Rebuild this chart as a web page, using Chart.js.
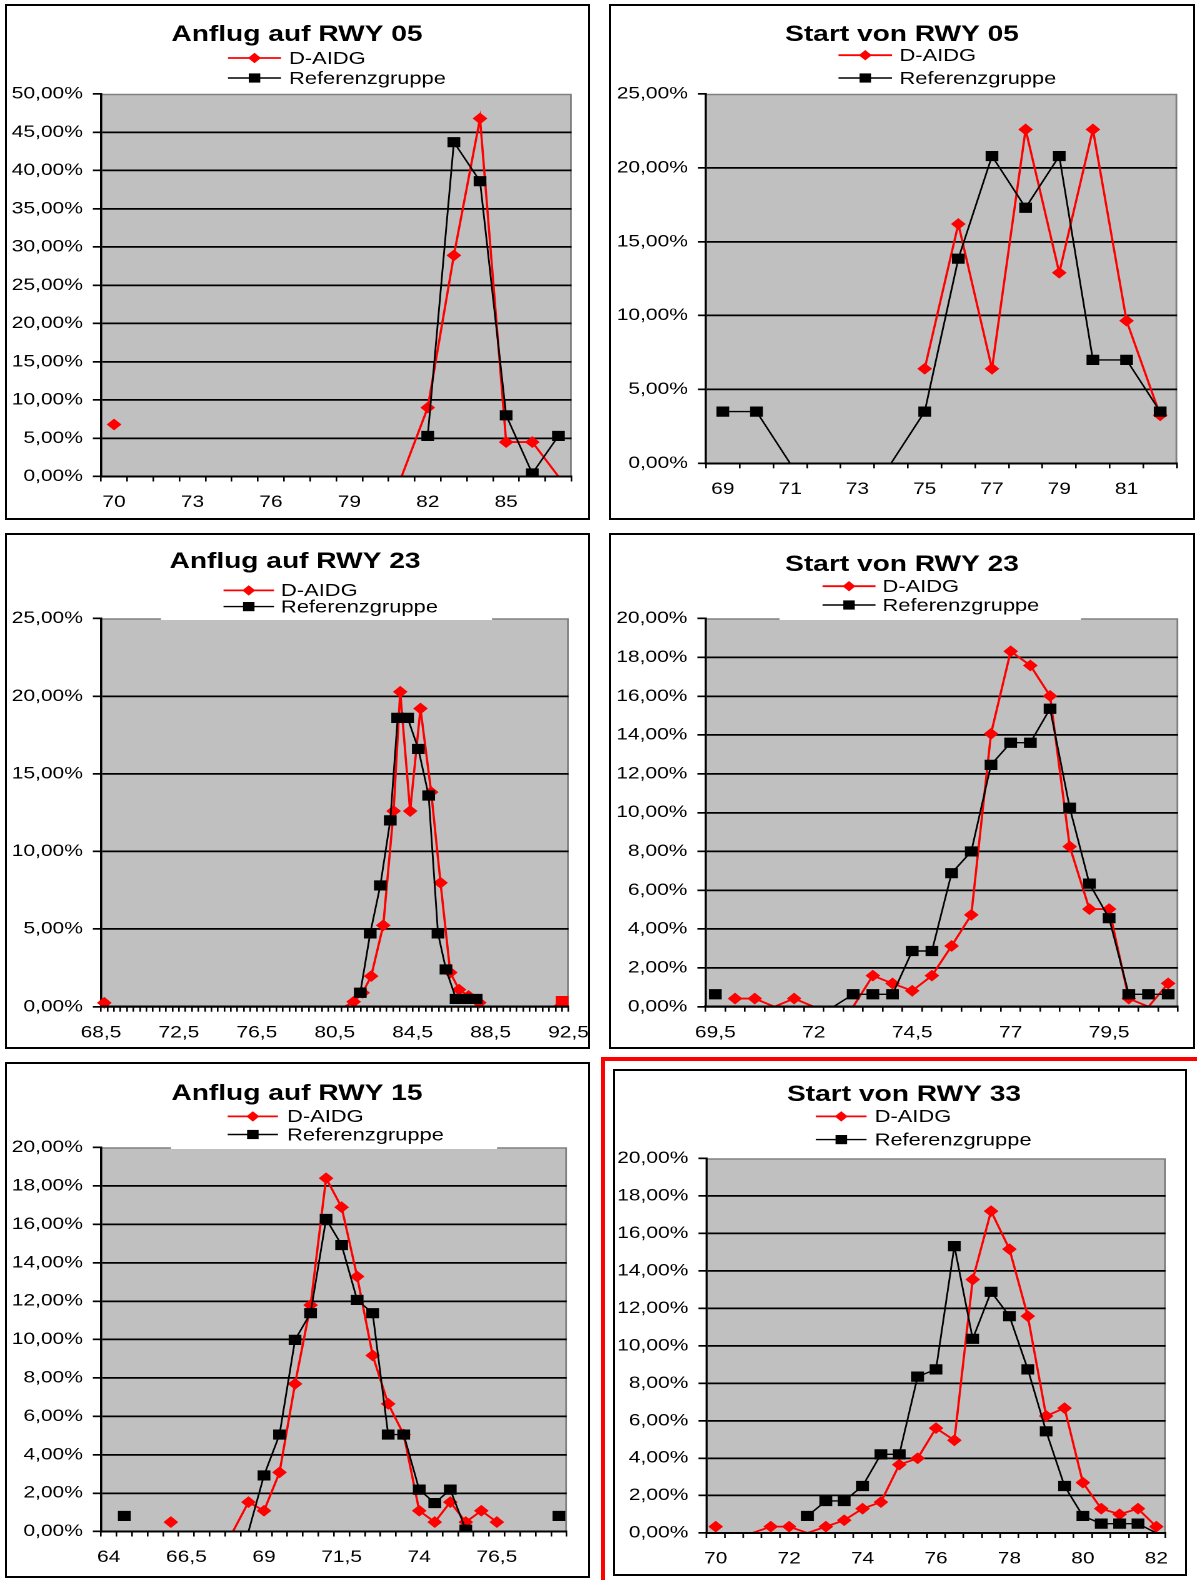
<!DOCTYPE html>
<html>
<head>
<meta charset="utf-8">
<title>Anflug / Start RWY</title>
<script src="https://cdn.jsdelivr.net/npm/chart.js@4.4.1/dist/chart.umd.min.js"></script>
<style>
  html, body { margin: 0; padding: 0; background: #fff; }
  body { position: relative; width: 1197px; height: 1580px; overflow: hidden; }
  .box { position: absolute; box-sizing: border-box; border: 2px solid #000; }
  .sel { position: absolute; box-sizing: border-box; border-left: 4px solid #f00; border-top: 4px solid #f00; }
  canvas { position: absolute; transform-origin: 0 0; }
</style>
</head>
<body>
<div class="sel" style="left:601px;top:1057px;width:596px;height:523px"></div>
<script>
const n = null;

// Anflug auf RWY 05
const a05Cats = [70, 71, 72, 73, 74, 75, 76, 77, 78, 79, 80, 81, 82, 83, 84, 85, 86, 87];
const a05Labels = [70, 73, 76, 79, 82, 85];
const a05Daidg = [6.8, n, n, n, n, n, n, n, n, n, n, 0, 9.0, 28.9, 46.8, 4.5, 4.5, 0];
const a05Ref = [n, n, n, n, n, n, n, n, n, n, n, n, 5.3, 43.7, 38.6, 8.0, 0.4, 5.3];

// Start von RWY 05
const s05Cats = [69, 70, 71, 72, 73, 74, 75, 76, 77, 78, 79, 80, 81, 82];
const s05Labels = [69, 71, 73, 75, 77, 79, 81];
const s05Daidg = [n, n, n, n, n, n, 6.4, 16.2, 6.4, 22.6, 12.9, 22.6, 9.65, 3.25];
const s05Ref = [3.5, 3.5, 0, 0, 0, 0, 3.5, 13.85, 20.8, 17.3, 20.8, 7.0, 7.0, 3.5];

// Anflug auf RWY 23 (x/y pairs, value axis)
const a23Labels = [68.5, 72.5, 76.5, 80.5, 84.5, 88.5, 92.5];
const a23DaidgX = [68.67, 69, 81, 81.47, 81.93, 82.37, 82.99, 83.52, 83.86, 84.37, 84.9, 85.45, 85.93, 86.43, 86.88, 87.37, 87.92, 88.5, 91.74, 92.17];
const a23DaidgY = [0.25, n, 0, 0.32, 0.9, 1.97, 5.24, 12.6, 20.28, 12.6, 19.2, 13.82, 7.98, 2.2, 1.1, 0.69, 0.26, n, 0, 0.36];
const a23RefX = [81.81, 82.32, 82.84, 83.35, 83.73, 84.24, 84.79, 85.32, 85.8, 86.21, 86.73, 87.24, 87.76];
const a23RefY = [0.9, 4.72, 7.81, 12.0, 18.6, 18.6, 16.6, 13.6, 4.72, 2.4, 0.5, 0.5, 0.5];

// Start von RWY 23
const s23Cats = [69.5, 70, 70.5, 71, 71.5, 72, 72.5, 73, 73.5, 74, 74.5, 75, 75.5, 76, 76.5, 77, 77.5, 78, 78.5, 79, 79.5, 80, 80.5, 81];
const s23Labels = [69.5, 72, 74.5, 77, 79.5];
const s23Daidg = [n, 0.42, 0.42, 0, 0.42, 0, n, 0, 1.6, 1.2, 0.82, 1.6, 3.13, 4.73, 14.06, 18.31, 17.58, 16.01, 8.25, 5.03, 5.03, 0.42, 0, 1.2];
const s23Ref = [0.64, n, n, n, n, n, 0, 0.64, 0.64, 0.64, 2.87, 2.87, 6.88, 8.0, 12.46, 13.6, 13.6, 15.35, 10.25, 6.34, 4.56, 0.64, 0.64, 0.64];

// Anflug auf RWY 15
const a15Cats = [64, 64.5, 65, 65.5, 66, 66.5, 67, 67.5, 68, 68.5, 69, 69.5, 70, 70.5, 71, 71.5, 72, 72.5, 73, 73.5, 74, 74.5, 75, 75.5, 76, 76.5, 77, 77.5, 78, 78.5];
const a15Labels = [64, 66.5, 69, 71.5, 74, 76.5];
const a15Daidg = [n, n, n, n, 0.49, n, n, n, 0, 1.53, 1.08, 3.08, 7.69, 11.79, 18.4, 16.89, 13.28, 9.17, 6.65, 5.05, 1.08, 0.49, 1.53, 0.49, 1.08, 0.49, n, n, n, n];
const a15Ref = [n, 0.81, n, n, n, n, n, n, n, 0, 2.92, 5.05, 9.98, 11.37, 16.28, 14.92, 12.06, 11.37, 5.05, 5.05, 2.18, 1.48, 2.18, 0.09, n, n, n, n, n, 0.81];

// Start von RWY 33
const s33Cats = [70, 70.5, 71, 71.5, 72, 72.5, 73, 73.5, 74, 74.5, 75, 75.5, 76, 76.5, 77, 77.5, 78, 78.5, 79, 79.5, 80, 80.5, 81, 81.5, 82];
const s33Labels = [70, 72, 74, 76, 78, 80, 82];
const s33Daidg = [0.34, n, 0, 0.34, 0.34, 0, 0.34, 0.68, 1.3, 1.65, 3.65, 3.99, 5.6, 4.95, 13.54, 17.19, 15.16, 11.58, 6.25, 6.67, 2.69, 1.3, 1.0, 1.3, 0.34];
const s33Ref = [n, n, n, n, n, 0.91, 1.71, 1.71, 2.51, 4.2, 4.2, 8.35, 8.74, 15.32, 10.37, 12.88, 11.58, 8.74, 5.43, 2.51, 0.91, 0.5, 0.5, 0.5, 0];

const seriesNames = ['D-AIDG', 'Referenzgruppe'];

const TF = '"Liberation Sans", Arial, Helvetica, sans-serif';
const fmtNum = v => (Math.round(v * 10) / 10).toString().replace('.', ',');
const fmtPct = v => v.toFixed(2).replace('.', ',') + '%';
const RED = '#ff0000', BLACK = '#000000';
const DIA_R = 5.2, SQ_R = 6.5;

function drawMark(ctx, style, x, y, r, color) {
  ctx.fillStyle = color;
  ctx.beginPath();
  if (style === 'rectRot') {
    ctx.moveTo(x, y - r); ctx.lineTo(x + r, y); ctx.lineTo(x, y + r); ctx.lineTo(x - r, y);
  } else {
    const s = r * Math.SQRT1_2;
    ctx.rect(x - s, y - s, 2 * s, 2 * s);
  }
  ctx.closePath();
  ctx.fill();
}

// plot background, title and legend like the old spreadsheet charts
const excelLook = {
  id: 'excelLook',
  beforeDraw(chart, args, o) {
    const {ctx, chartArea: a} = chart;
    ctx.save();
    ctx.fillStyle = '#c0c0c0';
    ctx.fillRect(a.left, a.top, a.right - a.left, a.bottom - a.top);
    ctx.strokeStyle = '#808080';
    ctx.lineWidth = 1.4;
    ctx.beginPath();
    ctx.moveTo(a.left, a.top + 0.5);
    ctx.lineTo(a.right - 0.5, a.top + 0.5);
    ctx.lineTo(a.right - 0.5, a.bottom);
    ctx.stroke();
    ctx.restore();
  },
  afterDraw(chart, args, o) {
    const {ctx, chartArea: a} = chart;
    ctx.save();
    if (o.cover) {
      ctx.fillStyle = '#fff';
      ctx.fillRect(o.cover[0], a.top - 3, o.cover[1] - o.cover[0], 4.5);
    }
    ctx.fillStyle = '#000';
    ctx.textBaseline = 'middle';
    ctx.textAlign = 'center';
    ctx.font = 'bold 22.5px ' + TF;
    ctx.fillText(o.title, o.tx, o.ty);
    ctx.textAlign = 'left';
    ctx.font = '17.5px ' + TF;
    chart.data.datasets.forEach((ds, i) => {
      const y = o.ly[i];
      ctx.strokeStyle = ds.borderColor;
      ctx.lineWidth = ds.borderWidth;
      ctx.beginPath();
      ctx.moveTo(o.lx0, y);
      ctx.lineTo(o.lx1, y);
      ctx.stroke();
      drawMark(ctx, o.marks[i], (o.lx0 + o.lx1) / 2, y, o.marks[i] === 'rect' ? SQ_R : DIA_R, ds.borderColor);
      ctx.fillStyle = '#000';
      ctx.fillText(ds.label, o.ltx, y + 1);
    });
    ctx.restore();
  }
};

const panels = [
  {title: 'Anflug auf RWY 05', box: [5, 4, 590, 520], plot: [101, 94, 571.5, 476.5],
   tAt: [297, 35], leg: [228, 281, 289], legY: [58, 78],
   cats: a05Cats, labels: a05Labels, red: a05Daidg, black: a05Ref, yMax: 50, yStep: 5},
  {title: 'Start von RWY 05', box: [609, 4, 1195, 520], plot: [706, 94, 1177, 463.3],
   tAt: [902, 35], leg: [838.5, 892, 899.5], legY: [55.2, 78],
   cats: s05Cats, labels: s05Labels, red: s05Daidg, black: s05Ref, yMax: 25, yStep: 5},
  {title: 'Anflug auf RWY 23', box: [5, 533, 590, 1049], plot: [101, 618.5, 568.5, 1006.7],
   tAt: [295, 562], leg: [223.5, 274, 281], legY: [590.4, 606.6], cover: [161, 492],
   xy: true, labels: a23Labels, minor: 1 / 3,
   redX: a23DaidgX, redY: a23DaidgY, blackX: a23RefX, blackY: a23RefY, yMax: 25, yStep: 5},
  {title: 'Start von RWY 23', box: [609, 533, 1195, 1049], plot: [705.5, 618.5, 1178, 1006.7],
   tAt: [902, 565], leg: [822.5, 875.5, 882.5], legY: [586.2, 605], cover: [779.5, 1081],
   cats: s23Cats, labels: s23Labels, red: s23Daidg, black: s23Ref, yMax: 20, yStep: 2},
  {title: 'Anflug auf RWY 15', box: [5, 1062, 590, 1578], plot: [101, 1147.5, 566.7, 1531.5],
   tAt: [297, 1094], leg: [227.7, 278, 287], legY: [1116.4, 1134.5], cover: [171, 497],
   cats: a15Cats, labels: a15Labels, red: a15Daidg, black: a15Ref, yMax: 20, yStep: 2},
  {title: 'Start von RWY 33', box: [613, 1069, 1187, 1576], plot: [706.5, 1158.5, 1165.5, 1533],
   tAt: [904, 1095], leg: [816, 866.5, 874.6], legY: [1116.4, 1139.6],
   cats: s33Cats, labels: s33Labels, red: s33Daidg, black: s33Ref, yMax: 20, yStep: 2}
];

const hideZero = r => c => (c.parsed && c.parsed.y === 0) ? 0 : r;

function makePanel(p) {
  const [L, T, R, B] = p.box;
  const W = Math.round((R - L) / 1.25);
  const sx = (R - L) / W;
  const H = B - T;
  const nx = x => (x - L) / sx;
  const ny = y => y - T;
  const [pl, pt, pr, pb] = p.plot;

  const frame = document.createElement('div');
  frame.className = 'box';
  Object.assign(frame.style, {left: L + 'px', top: T + 'px', width: (R - L) + 'px', height: H + 'px'});
  document.body.appendChild(frame);

  const cv = document.createElement('canvas');
  cv.width = W; cv.height = H;
  Object.assign(cv.style, {left: L + 'px', top: T + 'px', width: W + 'px', height: H + 'px', transform: 'scaleX(' + sx + ')'});
  document.body.appendChild(cv);

  let redData, blackData, lastRed;
  if (p.xy) {
    redData = p.redX.map((x, i) => ({x, y: p.redY[i]}));
    blackData = p.blackX.map((x, i) => ({x, y: p.blackY[i]}));
    lastRed = redData.length - 1;
  } else {
    redData = p.red;
    blackData = p.black;
    lastRed = -1;
  }

  const tickFont = {family: TF, size: 16.8};
  const red = {
    label: seriesNames[0], data: redData, order: 1,
    borderColor: RED, backgroundColor: RED, pointBackgroundColor: RED, pointBorderColor: RED,
    borderWidth: 1.8, pointBorderWidth: 1, tension: 0, spanGaps: false,
    pointStyle: c => c.dataIndex === lastRed ? 'rect' : 'rectRot',
    pointRadius: c => (c.parsed && c.parsed.y === 0) ? 0 : (c.dataIndex === lastRed ? SQ_R : DIA_R)
  };
  const black = {
    label: seriesNames[1], data: blackData, order: 0,
    borderColor: BLACK, backgroundColor: BLACK, pointBackgroundColor: BLACK, pointBorderColor: BLACK,
    borderWidth: 1.4, pointBorderWidth: 1, tension: 0, spanGaps: false,
    pointStyle: 'rect', pointRadius: hideZero(SQ_R)
  };
  if (p.xy) { red.clip = false; black.clip = false; }

  let xScale;
  if (p.xy) {
    const xMin = p.labels[0], xMax = p.labels[p.labels.length - 1];
    const steps = Math.round((xMax - xMin) / p.minor);
    xScale = {
      type: 'linear', min: xMin, max: xMax,
      afterBuildTicks: s => {
        const t = [];
        for (let i = 0; i <= steps; i++) t.push({value: xMin + i * p.minor});
        s.ticks = t;
      },
      grid: {drawOnChartArea: false, drawTicks: true, tickLength: 5, color: '#000', lineWidth: 1.3},
      border: {color: '#000', width: 2, z: 1},
      ticks: {autoSkip: false, maxRotation: 0, minRotation: 0, padding: 11, color: '#000', font: tickFont,
        callback: v => p.labels.some(l => Math.abs(l - v) < 1e-6) ? fmtNum(v) : ''},
      afterFit: s => { s.height = B - pb; s.paddingLeft = 0; s.paddingRight = 0; }
    };
  } else {
    xScale = {
      type: 'category', offset: true,
      grid: {offset: true, drawOnChartArea: false, drawTicks: true, tickLength: 5, color: '#000', lineWidth: 1.3},
      border: {color: '#000', width: 2, z: 1},
      ticks: {autoSkip: false, maxRotation: 0, minRotation: 0, padding: 11, color: '#000', font: tickFont,
        callback: (v, i) => p.labels.includes(p.cats[i]) ? fmtNum(p.cats[i]) : ''},
      afterFit: s => { s.height = B - pb; s.paddingLeft = 0; s.paddingRight = 0; }
    };
  }

  new Chart(cv, {
    type: 'line',
    data: {labels: p.xy ? undefined : p.cats, datasets: [red, black]},
    options: {
      responsive: false, animation: false, devicePixelRatio: 2, events: [],
      layout: {padding: {top: ny(pt), right: (R - pr) / sx, left: 0, bottom: 0}},
      scales: {
        x: xScale,
        y: {
          min: 0, max: p.yMax,
          ticks: {stepSize: p.yStep, padding: 8, color: '#000', font: tickFont, callback: v => fmtPct(v)},
          grid: {color: c => (c.tick && c.tick.value === p.yMax) ? 'rgba(0,0,0,0)' : '#000',
                 tickColor: '#000', lineWidth: 1.7, tickLength: 6.5, drawTicks: true},
          border: {color: '#000', width: 1.8},
          afterFit: s => { s.width = nx(pl); }
        }
      },
      plugins: {
        legend: {display: false},
        title: {display: false},
        tooltip: {enabled: false},
        excelLook: {
          title: p.title, tx: nx(p.tAt[0]), ty: ny(p.tAt[1]),
          lx0: nx(p.leg[0]), lx1: nx(p.leg[1]), ltx: nx(p.leg[2]),
          ly: p.legY.map(ny), marks: ['rectRot', 'rect'],
          cover: p.cover ? p.cover.map(nx) : null
        }
      }
    },
    plugins: [excelLook]
  });
}

panels.forEach(makePanel);
</script>
</body>
</html>
